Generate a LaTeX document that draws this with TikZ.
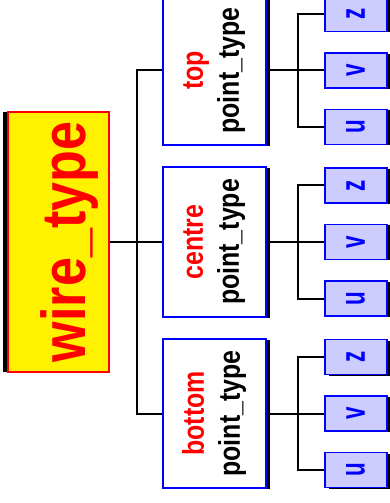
\documentclass[tikz,border=0pt]{standalone}
\usepackage{fontspec}
\setmainfont{Liberation Sans}
\newfontfamily\wirefont[FakeStretch=0.84]{Liberation Sans}
\newfontfamily\pointfont[FakeStretch=0.83]{Liberation Sans}
\newfontfamily\coordfont[FakeStretch=0.64]{Liberation Sans}
\usepackage{tikz}
\usetikzlibrary{positioning,shadows}
\tikzset{
  wirebox/.style={
    rectangle, draw=red, fill=yellow, line width=1.2pt,
    minimum width=260pt, minimum height=101pt,
    font=\wirefont\bfseries\fontsize{62}{70}\selectfont, text=red,
    text height=67pt, text depth=13pt,
    drop shadow={shadow xshift=-5pt, shadow yshift=0pt, opacity=1, fill=black, rounded corners=3pt},
    inner sep=0pt
  },
  pointbox/.style={
    rectangle, draw=blue, fill=white, line width=2pt,
    minimum width=149pt, minimum height=103pt,
    font=\pointfont\bfseries\fontsize{30}{36}\selectfont, align=center,
    drop shadow={shadow xshift=4pt, shadow yshift=-1pt, opacity=1, fill=black},
    inner sep=0pt
  },
  coordbox/.style={
    rectangle, draw=blue, fill=blue!20, line width=1.8pt,
    minimum width=35pt, minimum height=62pt,
    font=\coordfont\bfseries\fontsize{35}{40}\selectfont, text=blue,
    drop shadow={shadow xshift=4pt, shadow yshift=-1pt, opacity=1, fill=black},
    inner sep=0pt
  },
  link/.style={line width=2pt, color=black},
}
\begin{document}
\begin{tikzpicture}[rotate=90, transform shape]
  \useasboundingbox (-261pt,-330.5pt) rectangle (242pt,58.5pt);
  \node[wirebox] (wire) at (0,0) {wire\_type};
  \node[pointbox] at ([xshift=-171.5pt, yshift=-104.5pt]wire.south) (pbot) {\textcolor{red}{bottom}\\point\_type};
  \node[pointbox] at ([yshift=-104.5pt]wire.south) (pcen) {\textcolor{red}{centre}\\point\_type};
  \node[pointbox] at ([xshift=171.5pt, yshift=-104.5pt]wire.south) (ptop) {\textcolor{red}{top}\\point\_type};
  \draw[link] (wire.south) -- ([yshift=-27pt]wire.south) -| (pbot.north);
  \draw[link] (wire.south) -- ([yshift=-27pt]wire.south) -| (pcen.north);
  \draw[link] (wire.south) -- ([yshift=-27pt]wire.south) -| (ptop.north);
  \node[coordbox] at ([xshift=-56.5pt, yshift=-89pt]pbot.south) (ubot) {u};
  \node[coordbox] at ([yshift=-89pt]pbot.south) (vbot) {v};
  \node[coordbox] at ([xshift=56.5pt, yshift=-89pt]pbot.south) (zbot) {z};
  \node[coordbox] at ([xshift=-56.5pt, yshift=-89pt]pcen.south) (ucen) {u};
  \node[coordbox] at ([yshift=-89pt]pcen.south) (vcen) {v};
  \node[coordbox] at ([xshift=56.5pt, yshift=-89pt]pcen.south) (zcen) {z};
  \node[coordbox] at ([xshift=-56.5pt, yshift=-89pt]ptop.south) (utop) {u};
  \node[coordbox] at ([yshift=-89pt]ptop.south) (vtop) {v};
  \node[coordbox] at ([xshift=56.5pt, yshift=-89pt]ptop.south) (ztop) {z};
  \draw[link] (pbot.south) -- ([yshift=-31pt]pbot.south) -| (ubot.north);
  \draw[link] (pbot.south) -- ([yshift=-31pt]pbot.south) -| (vbot.north);
  \draw[link] (pbot.south) -- ([yshift=-31pt]pbot.south) -| (zbot.north);
  \draw[link] (pcen.south) -- ([yshift=-31pt]pcen.south) -| (ucen.north);
  \draw[link] (pcen.south) -- ([yshift=-31pt]pcen.south) -| (vcen.north);
  \draw[link] (pcen.south) -- ([yshift=-31pt]pcen.south) -| (zcen.north);
  \draw[link] (ptop.south) -- ([yshift=-31pt]ptop.south) -| (utop.north);
  \draw[link] (ptop.south) -- ([yshift=-31pt]ptop.south) -| (vtop.north);
  \draw[link] (ptop.south) -- ([yshift=-31pt]ptop.south) -| (ztop.north);
\end{tikzpicture}
\end{document}
